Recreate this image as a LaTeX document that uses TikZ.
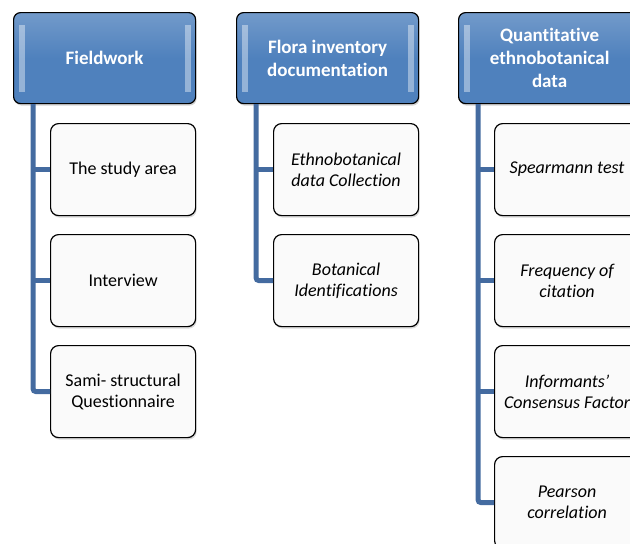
\documentclass[tikz,border=0pt]{standalone}
\usepackage{fontspec}
\setmainfont[RawFeature=-liga]{Carlito}
\usetikzlibrary{shadows}
\definecolor{hdblue}{RGB}{79,129,189}
\definecolor{lnblue}{RGB}{68,107,160}
\tikzset{
  head/.style={draw=black,line width=1.2pt,rounded corners=7pt,top color=hdblue!80!white,bottom color=hdblue,
    middle color=hdblue,text=white,font=\bfseries\fontsize{19}{23}\selectfont,align=center,
    minimum width=182pt,minimum height=91pt,anchor=north west,inner sep=1pt,
    drop shadow={shadow xshift=1pt,shadow yshift=-2pt,opacity=0.35},
    path picture={\path[fill=white,draw=none,opacity=0.4,rounded corners=0pt]([xshift=5pt,yshift=-12pt]path picture bounding box.north west) rectangle ++(6pt,-67pt);
                  \path[fill=white,draw=none,opacity=0.4,rounded corners=0pt]([xshift=-5pt,yshift=-12pt]path picture bounding box.north east) rectangle ++(-6pt,-67pt);}},
  item/.style={draw=black,line width=1.2pt,rounded corners=8pt,fill=gray!4,font=\fontsize{18}{21}\selectfont,align=center,
    minimum width=145pt,minimum height=92pt,anchor=north west,inner sep=1pt,
    drop shadow={shadow xshift=1pt,shadow yshift=-2pt,opacity=0.3}},
  itemit/.style={item,font=\itshape\fontsize{18}{21}\selectfont},
  link/.style={lnblue,line width=5pt,rounded corners=3pt}
}
\begin{document}
\begin{tikzpicture}[x=1pt,y=-1pt]
\useasboundingbox(0,0)rectangle(630,544);
\clip(0,0)rectangle(630,544);
% headers
\node[head](fw)at(13,12){Fieldwork};
\node[head](fl)at(236,12){Flora inventory\\documentation};
\node[head](qe)at(458,12){Quantitative\\ethnobotanical\\data};
% fieldwork
\node[item](fw1)at(50,123){The study area};
\node[item](fw2)at(50,234){Interview};
\node[item](fw3)at(50,345){Sami- structural\\Questionnaire};
% flora
\node[itemit](fl1)at(273,123){Ethnobotanical\\data Collection};
\node[itemit](fl2)at(273,234){Botanical\\Identifications};
% quantitative
\node[itemit](qe1)at(494,123){Spearmann test};
\node[itemit](qe2)at(494,234){Frequency of\\citation};
\node[itemit](qe3)at(494,345){Informants'\\Consensus Factor};
\node[itemit](qe4)at(494,456){Pearson\\correlation};
% connectors
\coordinate(fw-l)at([xshift=20pt]fw.south west);
\coordinate(fl-l)at([xshift=20pt]fl.south west);
\coordinate(qe-l)at([xshift=20pt]qe.south west);
\draw[link](fw-l)|-(fw3.west);
\draw[link](fl-l)|-(fl2.west);
\draw[link](qe-l)|-(qe4.west);
\foreach \h/\c in {fw/fw1,fw/fw2,fl/fl1,qe/qe1,qe/qe2,qe/qe3}{\draw[link](\h-l|-\c.west)--(\c.west);}
\end{tikzpicture}
\end{document}
